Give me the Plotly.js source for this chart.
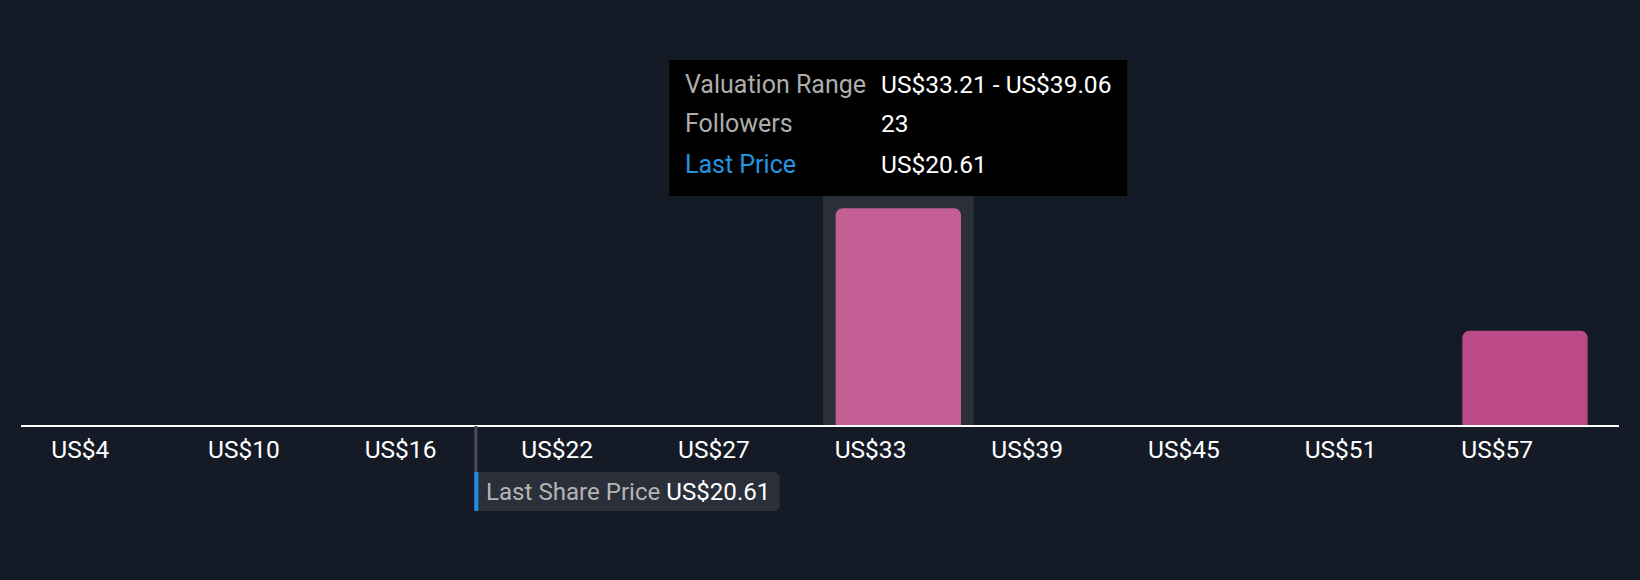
<!DOCTYPE html>
<html>
<head>
<meta charset="utf-8">
<script src="https://cdn.plot.ly/plotly-3.0.1.min.js"></script>
<style>
  html, body { margin: 0; padding: 0; background: #151B26; }
  #chart { width: 1640px; height: 580px; }
</style>
</head>
<body>
<div id="chart"></div>
<script>
// ---- data ----
const tickLabels = ['US$4', 'US$10', 'US$16', 'US$22', 'US$27', 'US$33', 'US$39', 'US$45', 'US$51', 'US$57'];
const binLow  = [3.96, 9.81, 15.66, 21.51, 27.36, 33.21, 39.06, 44.91, 50.76, 56.61];
const binHigh = [9.81, 15.66, 21.51, 27.36, 33.21, 39.06, 44.91, 50.76, 56.61, 62.46];
const followers = [0, 0, 0, 0, 0, 23, 0, 0, 0, 10];
const lastPrice = 20.61;
const hoveredIndex = 5;

// ---- layout helpers ----
const W = 1640, H = 580;
const M = { l: 21, r: 21, t: 80, b: 155 };
const plotH = H - M.t - M.b;
const axisY = H - M.b;
const yMax = 36.6;
const py = p => (axisY - p) / plotH;   // pixel row -> paper y

const BG = '#151B26';
const FONT = 'Roboto, "Open Sans", sans-serif';
const idx = followers.map((_, i) => i);

const fmt = v => 'US$' + v.toFixed(2);

const barTrace = {
  type: 'bar',
  x: idx,
  y: followers,
  width: 0.8,
  marker: {
    color: idx.map(i => i === hoveredIndex ? '#C45F96' : '#BC4A86'),
    cornerradius: 7,
    line: { width: 0 }
  },
  hoverinfo: 'skip',
  xaxis: 'x',
  yaxis: 'y'
};

const priceTrace = {
  type: 'scatter',
  mode: 'markers',
  x: [lastPrice],
  y: [0],
  marker: { opacity: 0, size: 1 },
  hoverinfo: 'skip',
  xaxis: 'x2',
  yaxis: 'y',
  showlegend: false
};

const shapes = [
  // hover highlight column
  { type: 'rect', layer: 'below', xref: 'x', yref: 'paper',
    x0: hoveredIndex - 0.48, x1: hoveredIndex + 0.48, y0: 0, y1: 1,
    fillcolor: '#2A2F3A', line: { width: 0 } },
  // tooltip box
  { type: 'rect', layer: 'above', xref: 'x', yref: 'paper',
    xsizemode: 'pixel', xanchor: hoveredIndex, x0: -229, x1: 229,
    y0: py(196), y1: py(60),
    fillcolor: '#000000', line: { width: 0 } },
  // last price connector line
  { type: 'line', layer: 'above', xref: 'x2', yref: 'paper',
    x0: lastPrice, x1: lastPrice, y0: py(426), y1: py(472),
    line: { color: '#474C56', width: 3 } },
  // last price label box (slightly rounded right corners)
  { type: 'path', layer: 'above', xref: 'x2', yref: 'paper',
    xsizemode: 'pixel', xanchor: lastPrice,
    path: 'M -1.5 ' + py(511) + ' L 300 ' + py(511) + ' L 304 ' + py(507) +
          ' L 304 ' + py(476) + ' L 300 ' + py(472) + ' L -1.5 ' + py(472) + ' Z',
    fillcolor: '#2A2F3A', line: { width: 0 } },
  // blue marker
  { type: 'rect', layer: 'above', xref: 'x2', yref: 'paper',
    xsizemode: 'pixel', xanchor: lastPrice, x0: -1.5, x1: 2.5,
    y0: py(511), y1: py(472),
    fillcolor: '#1E8FE1', line: { width: 0 } }
];

const tipRows = [
  { label: 'Valuation Range', value: fmt(binLow[hoveredIndex]) + ' - ' + fmt(binHigh[hoveredIndex]), color: '#ADADAD', row: 84 },
  { label: 'Followers', value: String(followers[hoveredIndex]), color: '#ADADAD', row: 124 },
  { label: 'Last Price', value: fmt(lastPrice), color: '#2394DF', row: 164 }
];

const annotations = [];
tipRows.forEach(r => {
  annotations.push({
    xref: 'x', yref: 'paper', x: hoveredIndex, xshift: -215, xanchor: 'left',
    y: py(r.row), yanchor: 'middle', showarrow: false, text: r.label,
    font: { family: FONT, size: 25, color: r.color }
  });
  annotations.push({
    xref: 'x', yref: 'paper', x: hoveredIndex, xshift: -19, xanchor: 'left',
    y: py(r.row), yanchor: 'middle', showarrow: false, text: r.value,
    font: { family: FONT, size: 24.5, color: '#FFFFFF' }
  });
});
annotations.push({
  xref: 'x2', yref: 'paper', x: lastPrice, xshift: 8, xanchor: 'left',
  y: py(491.5), yanchor: 'middle', showarrow: false,
  text: '<span style="color:#B4B4B4">Last Share Price</span> ' + fmt(lastPrice),
  font: { family: FONT, size: 24.1, color: '#FFFFFF' }
});

const layout = {
  width: W, height: H,
  margin: M,
  paper_bgcolor: BG,
  plot_bgcolor: BG,
  showlegend: false,
  hovermode: false,
  bargap: 0.2,
  font: { family: FONT, color: '#FFFFFF', size: 24 },
  xaxis: {
    range: [-0.6, 9.6],
    tickmode: 'array',
    tickvals: idx.map(i => i - 0.4),
    ticktext: tickLabels,
    ticklabelposition: 'outside right',
    ticklabelshift: -2,
    ticklabelstandoff: 2,
    ticks: '',
    showgrid: false,
    zeroline: false,
    showline: true,
    linecolor: '#FFFFFF',
    linewidth: 2,
    tickfont: { family: FONT, size: 24.5, color: '#FFFFFF' },
    fixedrange: true
  },
  xaxis2: {
    overlaying: 'x',
    range: [binLow[0], binHigh[binHigh.length - 1]],
    visible: false,
    fixedrange: true
  },
  yaxis: {
    range: [0, yMax],
    visible: false,
    showgrid: false,
    zeroline: false,
    fixedrange: true
  },
  shapes: shapes,
  annotations: annotations
};

Plotly.newPlot('chart', [barTrace, priceTrace], layout, { displayModeBar: false, staticPlot: true });
</script>
</body>
</html>
